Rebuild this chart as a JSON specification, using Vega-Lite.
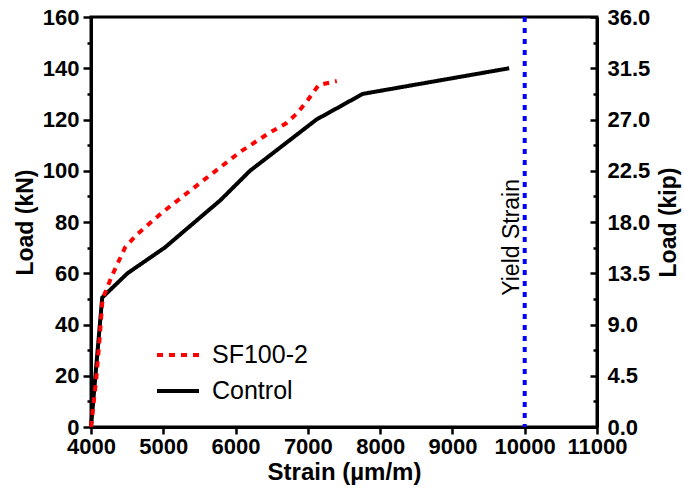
{
  "$schema": "https://vega.github.io/schema/vega-lite/v6.json",
  "width": 506,
  "height": 410,
  "autosize": {"type": "none"},
  "padding": {"left": 91, "top": 17, "right": 87, "bottom": 67},
  "background": "white",
  "config": {
    "font": "Liberation Sans",
    "view": {"stroke": "black", "strokeWidth": 3},
    "axis": {
      "grid": false,
      "domainColor": "black",
      "domainWidth": 3,
      "tickColor": "black",
      "tickWidth": 2.5,
      "labelColor": "black",
      "labelFont": "Liberation Sans",
      "labelFontSize": 22,
      "labelFontWeight": "bold",
      "labelOverlap": false,
      "labelFlush": false,
      "titleColor": "black",
      "titleFont": "Liberation Sans",
      "titleFontSize": 23,
      "titleFontWeight": "bold"
    }
  },
  "resolve": {"scale": {"y": "independent"}, "axis": {"y": "independent"}},
  "layer": [
    {
      "data": {
        "values": [
          {"series": "Control", "strain": 4000, "load": 0},
          {"series": "Control", "strain": 4155, "load": 50.5},
          {"series": "Control", "strain": 4505, "load": 60},
          {"series": "Control", "strain": 5020, "load": 70},
          {"series": "Control", "strain": 5790, "load": 88.5},
          {"series": "Control", "strain": 6200, "load": 100},
          {"series": "Control", "strain": 6660, "load": 110},
          {"series": "Control", "strain": 7120, "load": 120},
          {"series": "Control", "strain": 7760, "load": 130},
          {"series": "Control", "strain": 9785, "load": 140},
          {"series": "SF100-2", "strain": 4000, "load": 0},
          {"series": "SF100-2", "strain": 4070, "load": 18},
          {"series": "SF100-2", "strain": 4115, "load": 33},
          {"series": "SF100-2", "strain": 4160, "load": 50},
          {"series": "SF100-2", "strain": 4290, "load": 59},
          {"series": "SF100-2", "strain": 4470, "load": 70},
          {"series": "SF100-2", "strain": 4630, "load": 75},
          {"series": "SF100-2", "strain": 4980, "load": 83.6},
          {"series": "SF100-2", "strain": 5530, "load": 95.7},
          {"series": "SF100-2", "strain": 6080, "load": 107.7},
          {"series": "SF100-2", "strain": 6480, "load": 115},
          {"series": "SF100-2", "strain": 6700, "load": 118.5},
          {"series": "SF100-2", "strain": 6850, "load": 122.4},
          {"series": "SF100-2", "strain": 7000, "load": 127.6},
          {"series": "SF100-2", "strain": 7150, "load": 133.5},
          {"series": "SF100-2", "strain": 7400, "load": 135}
        ]
      },
      "mark": {"type": "line", "strokeWidth": 4},
      "encoding": {
        "x": {
          "field": "strain", "type": "quantitative",
          "scale": {"domain": [4000, 11000], "nice": false, "zero": false},
          "axis": {
            "title": "Strain (µm/m)",
            "titleFontSize": 24,
            "values": [4000, 4500, 5000, 5500, 6000, 6500, 7000, 7500, 8000, 8500, 9000, 9500, 10000, 10500, 11000],
            "format": "d",
            "labelExpr": "datum.value % 1000 === 0 ? datum.label : ''",
            "tickSize": {"condition": {"test": "datum.value % 1000 === 0", "value": 7}, "value": 4},
            "labelPadding": 2,
            "titlePadding": 3
          }
        },
        "y": {
          "field": "load", "type": "quantitative",
          "scale": {"domain": [0, 160], "nice": false},
          "axis": {
            "orient": "left",
            "title": "Load (kN)",
            "values": [0, 10, 20, 30, 40, 50, 60, 70, 80, 90, 100, 110, 120, 130, 140, 150, 160],
            "labelExpr": "datum.value % 20 === 0 ? datum.label : ''",
            "tickSize": {"condition": {"test": "datum.value % 20 === 0", "value": 8}, "value": 4},
            "labelPadding": 4,
            "titlePadding": 5
          }
        },
        "color": {
          "field": "series", "type": "nominal",
          "scale": {"domain": ["SF100-2", "Control"], "range": ["#ff0000", "#000000"]},
          "legend": {
            "title": null, "orient": "none", "legendX": 64, "legendY": 315,
            "symbolType": "stroke", "symbolSize": 1764, "symbolStrokeWidth": 4,
            "labelFontSize": 25, "labelFont": "Liberation Sans", "labelColor": "black",
            "labelOffset": 11, "rowPadding": -10, "padding": 0
          }
        },
        "strokeDash": {
          "field": "series", "type": "nominal",
          "scale": {"domain": ["SF100-2", "Control"], "range": [[6, 6], [1, 0]]},
          "legend": {
            "title": null, "orient": "none", "legendX": 64, "legendY": 315,
            "symbolType": "stroke", "symbolSize": 1764, "symbolStrokeWidth": 4,
            "labelFontSize": 25, "labelFont": "Liberation Sans", "labelColor": "black",
            "labelOffset": 11, "rowPadding": -10, "padding": 0
          }
        }
      }
    },
    {
      "data": {"values": [{"strain": 10000}]},
      "mark": {"type": "rule", "color": "#0000ff", "strokeWidth": 4, "strokeDash": [5, 6]},
      "encoding": {"x": {"field": "strain", "type": "quantitative"}}
    },
    {
      "data": {"values": [{"strain": 10000, "load": 74, "label": "Yield Strain"}]},
      "mark": {"type": "text", "angle": 270, "fontSize": 23, "font": "Liberation Sans", "baseline": "bottom", "align": "center", "dy": -1, "color": "black"},
      "encoding": {
        "x": {"field": "strain", "type": "quantitative"},
        "y": {"field": "load", "type": "quantitative", "scale": {"domain": [0, 160], "nice": false}, "axis": null},
        "text": {"field": "label"}
      }
    },
    {
      "data": {"values": [{"kip": 0}, {"kip": 36}]},
      "mark": {"type": "point", "opacity": 0},
      "encoding": {
        "y": {
          "field": "kip", "type": "quantitative",
          "scale": {"domain": [0, 36], "nice": false},
          "axis": {
            "orient": "right",
            "title": "Load (kip)",
            "titleAngle": 270,
            "titleBaseline": "top",
            "values": [0, 2.25, 4.5, 6.75, 9, 11.25, 13.5, 15.75, 18, 20.25, 22.5, 24.75, 27, 29.25, 31.5, 33.75, 36],
            "labelExpr": "datum.value % 4.5 === 0 ? format(datum.value, '.1f') : ''",
            "tickSize": {"condition": {"test": "datum.value % 4.5 === 0", "value": -7}, "value": -4},
            "labelPadding": 17,
            "titlePadding": 8
          }
        }
      }
    }
  ]
}
